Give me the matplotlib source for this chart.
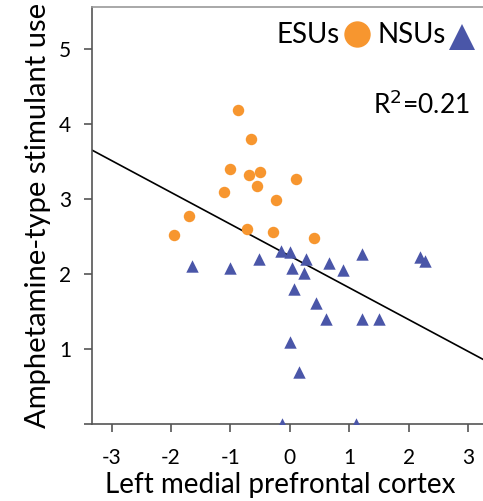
import matplotlib
matplotlib.use("Agg")
import matplotlib.pyplot as plt

plt.rcParams['font.family'] = ['Lato', 'DejaVu Sans']

# ESUs (orange circles)
esu_x = [-0.88, -0.66, -1.01, -0.68, -0.51, 0.10, -0.55, -1.11, -0.23, -1.70, -0.72, -0.29, -1.95, 0.40]
esu_y = [4.19, 3.80, 3.40, 3.32, 3.36, 3.26, 3.17, 3.09, 2.99, 2.77, 2.60, 2.56, 2.52, 2.48]

# NSUs (blue triangles)
nsu_x = [-0.15, 0.01, 0.27, -0.52, 1.22, 2.19, 2.28, -1.65, -1.01, 0.03, 0.66, 0.90,
         0.24, 0.07, 0.44, 0.60, 1.21, 1.50, 0.00, 0.16, -0.13, 1.12]
nsu_y = [2.31, 2.29, 2.20, 2.20, 2.26, 2.22, 2.17, 2.11, 2.08, 2.08, 2.15, 2.06,
         2.02, 1.80, 1.62, 1.40, 1.40, 1.40, 1.10, 0.70, 0.00, 0.00]

# regression line
fit_slope = -0.424
fit_intercept = 2.24
r2_label = "R$^2$=0.21"
group_names = ["ESUs", "NSUs"]

x_ticks = [-3, -2, -1, 0, 1, 2, 3]
y_ticks = [1, 2, 3, 4, 5]

orange = "#F7962F"
blue = "#4A56A8"

fig = plt.figure(figsize=(4.83, 5.01), dpi=100)
ax = fig.add_axes([92/483, 1-424/501, 1-92/483, (424-7)/501])
xmin, xmax = -3.33, 3.25
ax.set_xlim(xmin, xmax)
ax.set_ylim(0, 5.56)

lx = [xmin, xmax]
ly = [fit_intercept + fit_slope*v for v in lx]
ax.plot(lx, ly, color="black", lw=1.2, zorder=2)

ax.scatter(esu_x, esu_y, s=68, marker='o', color=orange, linewidths=0, zorder=3)
ax.scatter(nsu_x, nsu_y, s=80, marker='^', color=blue, linewidths=0, zorder=3)

ax.set_xticks(x_ticks)
ax.set_xticklabels([str(t) for t in x_ticks])
ax.set_yticks([0] + y_ticks)
ax.set_yticklabels([""] + [str(t) for t in y_ticks])
ax.tick_params(axis='both', labelsize=15, length=6, width=1.2, color="#555555")
ax.tick_params(axis='x', pad=11)
ax.tick_params(axis='y', pad=9)

for s in ['left', 'bottom', 'top']:
    ax.spines[s].set_color("#555555")
    ax.spines[s].set_linewidth(1.2)
ax.spines['top'].set_color("#999999")
ax.spines['right'].set_visible(False)

ax.set_xlabel("Left medial prefrontal cortex", fontsize=20)
ax.xaxis.set_label_coords(0.482, -0.115)
ax.set_ylabel("Amphetamine-type stimulant use", fontsize=21, labelpad=6)

# legend-like key: label followed by marker
ax.text(0.473, 0.914, group_names[0], transform=ax.transAxes, ha='left', va='baseline', fontsize=20)
ax.plot([0.678], [0.935], marker='o', ms=19, color=orange, mew=0, ls='',
        transform=ax.transAxes, clip_on=False)
ax.text(0.731, 0.914, group_names[1], transform=ax.transAxes, ha='left', va='baseline', fontsize=20)
ax.plot([0.946], [0.929], marker='^', ms=19, color=blue, mew=0, ls='',
        transform=ax.transAxes, clip_on=False)

ax.text(0.965, 0.765, r2_label, transform=ax.transAxes, ha='right', va='center', fontsize=19)

fig.savefig("out.png", dpi=100)
